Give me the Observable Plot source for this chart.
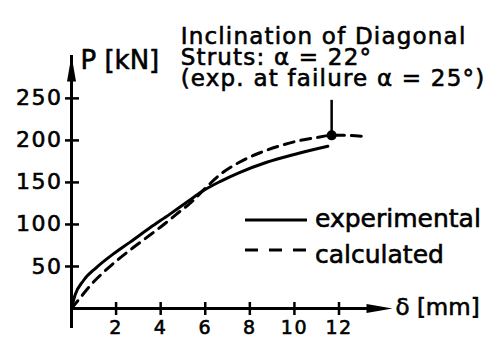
<!DOCTYPE html>
<html>
<head>
<meta charset="utf-8">
<script src="https://cdn.jsdelivr.net/npm/d3@7"></script>
<script src="https://cdn.jsdelivr.net/npm/@observablehq/plot@0.6"></script>
<style>
  html, body { margin: 0; padding: 0; background: #fff; }
  #wrap { position: relative; width: 494px; height: 338px; overflow: hidden; font-family: "DejaVu Sans", sans-serif; }
  #legend { position: absolute; left: 0; top: 0; pointer-events: none; }
  #wrap text { paint-order: stroke; stroke: black; stroke-width: 0.6px; }
</style>
</head>
<body>
<div id="wrap"></div>
<script>
// Load–deflection curve of the beam: measured vs. calculated
const deltaExperimental = [0, 0.16, 0.53, 1.13, 1.88, 2.63, 3.52, 4.4, 5.2, 5.9, 6.66, 7.56, 8.76, 9.95, 11.5];
const loadExperimental  = [0, 16, 33, 49, 65, 79, 96, 112, 127, 140, 151, 162, 174, 183, 193];

const deltaCalculated = [0, 0.4, 0.83, 1.39, 2.03, 2.7, 3.35, 4.0, 4.7, 5.4, 6.0, 6.7, 7.53, 8.43, 9.28, 10.1, 10.92, 11.67, 12.3, 13.0];
const loadCalculated  = [0, 13, 27, 42, 57, 71, 84, 97, 112, 127, 143, 160, 174, 185, 193, 199, 203, 206, 206, 205];

// failure point of the test
const failureDelta = [11.67];
const failureLoad = [206];

const xTicks = [2, 4, 6, 8, 10, 12];
const yTicks = [50, 100, 150, 200, 250];
const xMax = 14.4;   // δ at the tip of the horizontal axis arrow
const yMax = 301;    // P at the tip of the vertical axis arrow

const annotationLines = ["Inclination of Diagonal", "Struts: α = 22°", "(exp. at failure α = 25°)"];
const legendLabels = ["experimental", "calculated"];

const experimental = deltaExperimental.map((d, i) => ({delta: d, load: loadExperimental[i]}));
const calculated = deltaCalculated.map((d, i) => ({delta: d, load: loadCalculated[i]}));
const failure = failureDelta.map((d, i) => ({delta: d, load: failureLoad[i]}));

// elongated filled arrowhead, tip at the origin, pointing up
const arrowHead = {
  draw(ctx) {
    ctx.moveTo(0, 0);
    ctx.lineTo(4.5, 26);
    ctx.lineTo(-4.5, 26);
    ctx.closePath();
  }
};

const chart = Plot.plot({
  width: 494,
  height: 338,
  marginLeft: 71,
  marginRight: 102,
  marginTop: 55,
  marginBottom: 30,
  x: {domain: [0, xMax], axis: null},
  y: {domain: [0, yMax], axis: null},
  style: {fontFamily: "DejaVu Sans", color: "black", background: "white", overflow: "visible"},
  marks: [
    // axis lines
    Plot.ruleY([0], {x1: 0, x2: xMax, strokeWidth: 3, insetRight: 20}),
    Plot.ruleX([0], {y1: 0, y2: yMax, strokeWidth: 3, insetTop: 20}),
    Plot.dot([{x: xMax, y: 0}], {x: "x", y: "y", symbol: arrowHead, rotate: 90, fill: "black", stroke: null}),
    Plot.dot([{x: 0, y: yMax}], {x: "x", y: "y", symbol: arrowHead, rotate: 0, fill: "black", stroke: null}),
    // ticks crossing the axes
    Plot.ruleX(xTicks, {x: d => d, y1: 0, y2: 0, insetTop: -6, insetBottom: -7, strokeWidth: 2.5}),
    Plot.ruleY(yTicks, {y: d => d, x1: 0, x2: 0, insetLeft: -6, insetRight: -8, strokeWidth: 2.5}),
    Plot.axisX(xTicks, {tickSize: 0, tickPadding: 12, fontSize: 19, label: null}),
    Plot.axisY(yTicks, {tickSize: 0, tickPadding: 9, fontSize: 22, label: null}),
    // axis titles
    Plot.text(["P [kN]"], {frameAnchor: "top-left", textAnchor: "start", lineAnchor: "top", dx: 9, dy: -5, fontSize: 26}),
    Plot.text(["δ [mm]"], {frameAnchor: "bottom-right", textAnchor: "start", lineAnchor: "middle", dx: 3, dy: -1, fontSize: 23}),
    // curves
    Plot.line(experimental, {x: "delta", y: "load", curve: "monotone-x", strokeWidth: 3}),
    Plot.line(calculated, {x: "delta", y: "load", curve: "monotone-x", strokeWidth: 3, strokeDasharray: "10,7"}),
    // failure point with its note
    Plot.ruleX(failure, {x: "delta", y1: "load", y2: "load", insetTop: -35, strokeWidth: 2.5}),
    Plot.dot(failure, {x: "delta", y: "load", r: 5, fill: "black", stroke: null}),
    Plot.text(failure, {
      x: "delta", y: "load",
      text: () => annotationLines.join("\n"),
      textAnchor: "start", lineAnchor: "bottom", lineHeight: 0.93,
      dx: -151, dy: -49, fontSize: 23
    })
  ]
});

// widen the lettering of the tick labels and of the note
chart.querySelectorAll('[aria-label="y-axis tick label"] text, [aria-label="x-axis tick label"] text')
  .forEach(t => t.style.letterSpacing = "1.5px");
chart.querySelectorAll("text")
  .forEach(t => { if (t.textContent.startsWith(annotationLines[0])) t.style.letterSpacing = "1.2px"; });

const wrap = document.getElementById("wrap");
wrap.appendChild(chart);

// legend: line samples with their labels
const ns = "http://www.w3.org/2000/svg";
const legend = document.createElementNS(ns, "svg");
legend.setAttribute("id", "legend");
legend.setAttribute("width", 494);
legend.setAttribute("height", 338);
const rows = [
  {label: legendLabels[0], dash: null, lineY: 220, textY: 227},
  {label: legendLabels[1], dash: "13,11", lineY: 250, textY: 263}
];
for (const r of rows) {
  const l = document.createElementNS(ns, "line");
  l.setAttribute("x1", 245); l.setAttribute("x2", 307);
  l.setAttribute("y1", r.lineY); l.setAttribute("y2", r.lineY);
  l.setAttribute("stroke", "black"); l.setAttribute("stroke-width", 3);
  if (r.dash) l.setAttribute("stroke-dasharray", r.dash);
  legend.appendChild(l);
  const t = document.createElementNS(ns, "text");
  t.setAttribute("x", 315); t.setAttribute("y", r.textY);
  t.setAttribute("font-size", 25);
  t.setAttribute("font-family", "DejaVu Sans");
  t.textContent = r.label;
  legend.appendChild(t);
}
wrap.appendChild(legend);
</script>
</body>
</html>
